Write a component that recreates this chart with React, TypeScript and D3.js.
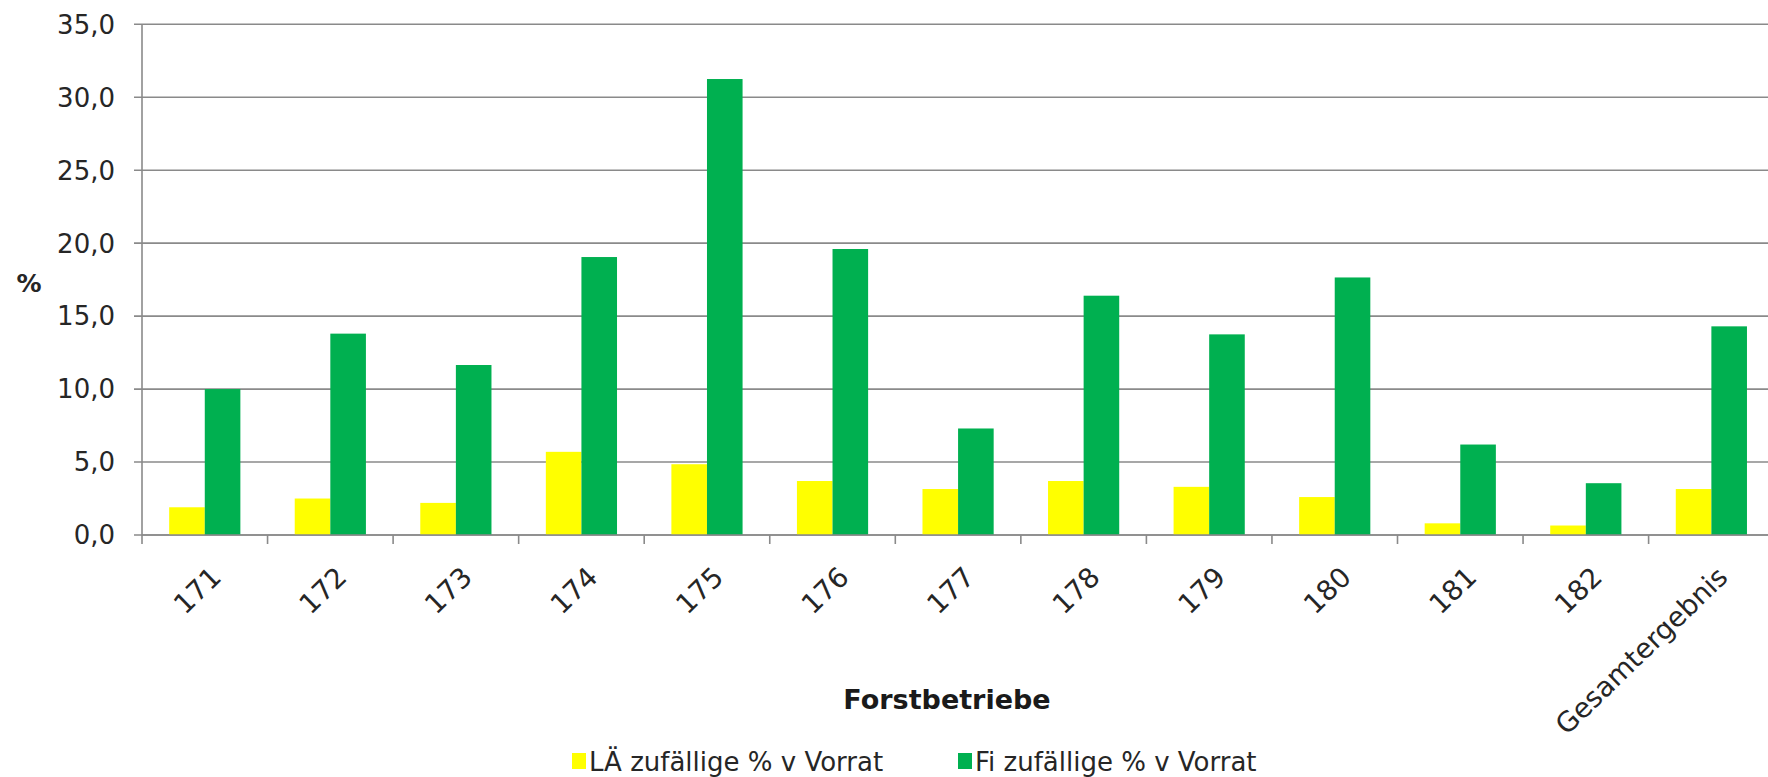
import React from "react";
import * as d3 from "d3";

const categories = ["171", "172", "173", "174", "175", "176", "177", "178", "179", "180", "181", "182", "Gesamtergebnis"];
const laValues = [1.9, 2.5, 2.2, 5.7, 4.85, 3.7, 3.15, 3.7, 3.3, 2.6, 0.8, 0.65, 3.15];
const fiValues = [10.0, 13.8, 11.65, 19.05, 31.25, 19.6, 7.3, 16.4, 13.75, 17.65, 6.2, 3.55, 14.3];
const seriesNames = ["LÄ zufällige % v Vorrat", "Fi zufällige % v Vorrat"];
const seriesColors = ["#ffff00", "#00b050"];
const yTicks = [0, 5, 10, 15, 20, 25, 30, 35];

const W = 1768;
const H = 777;
const plotLeft = 142;
const step = 125.55;
const plotRight = plotLeft + step * categories.length;
const yZero = 535;
const yTop = 24.3;
const FONT = "'DejaVu Sans', Verdana, sans-serif";

const locale = d3.formatLocale({ decimal: ",", thousands: ".", grouping: [3], currency: ["", " €"] });
const fmt = locale.format(".1f");

export default function App() {
  const x = d3.scaleBand<string>().domain(categories).range([plotLeft, plotRight]).paddingInner(0).paddingOuter(0);
  const y = d3.scaleLinear().domain([0, 35]).range([yZero, yTop]);
  const groupW = step * 0.567;
  const x1 = d3.scaleBand<number>().domain([0, 1]).range([0, groupW]);
  const series = [laValues, fiValues];

  return (
    <svg width={W} height={H} style={{ position: "absolute", left: 0, top: 0, background: "#fff" }} fontFamily={FONT}>
      <rect x={0} y={0} width={W} height={H} fill="#fff" />
      {/* gridlines */}
      {yTicks.map((t) => (
        <line key={"g" + t} x1={plotLeft - 8} x2={W} y1={y(t)} y2={y(t)} stroke="#8a8a8a" strokeWidth={1.6} />
      ))}
      {/* y tick labels */}
      {yTicks.map((t) => (
        <text key={"yl" + t} x={115} y={y(t)} dy="0.36em" textAnchor="end" fontSize={26} fill="#262626">
          {fmt(t)}
        </text>
      ))}
      {/* bars */}
      {categories.map((c, i) => (
        <g key={"c" + c}>
          {series.map((vals, s) => (
            <rect
              key={s}
              x={(x(c) as number) + (step - groupW) / 2 + (x1(s) as number)}
              y={y(vals[i])}
              width={x1.bandwidth()}
              height={yZero - y(vals[i])}
              fill={seriesColors[s]}
            />
          ))}
        </g>
      ))}
      {/* axes */}
      <line x1={plotLeft} x2={plotLeft} y1={yTop} y2={yZero} stroke="#8a8a8a" strokeWidth={1.6} />
      <line x1={plotLeft} x2={W} y1={yZero} y2={yZero} stroke="#8a8a8a" strokeWidth={1.6} />
      {categories.map((c, i) => (
        <line key={"xt" + i} x1={x(c) as number} x2={x(c) as number} y1={yZero} y2={yZero + 9} stroke="#8a8a8a" strokeWidth={1.6} />
      ))}
      {/* x labels */}
      {categories.map((c) => {
        const cx = (x(c) as number) + step / 2;
        return (
          <text
            key={"xl" + c}
            transform={`translate(${cx + 18},${579}) rotate(-44)`}
            textAnchor="end"
            fontSize={27.5}
            fill="#262626"
          >
            {c}
          </text>
        );
      })}
      {/* axis titles */}
      <text x={29} y={283} dy="0.36em" textAnchor="middle" fontSize={25} fontWeight="bold" fill="#262626">
        %
      </text>
      <text x={947} y={709} textAnchor="middle" fontSize={27} fontWeight="bold" fill="#1a1a1a">
        Forstbetriebe
      </text>
      {/* legend */}
      {seriesNames.map((n, s) => {
        const lx = s === 0 ? 572 : 958;
        return (
          <g key={"lg" + s}>
            <rect x={lx} y={753} width={14} height={16} fill={seriesColors[s]} />
            <text x={lx + 17} y={771} fontSize={26} fill="#262626">
              {n}
            </text>
          </g>
        );
      })}
    </svg>
  );
}
